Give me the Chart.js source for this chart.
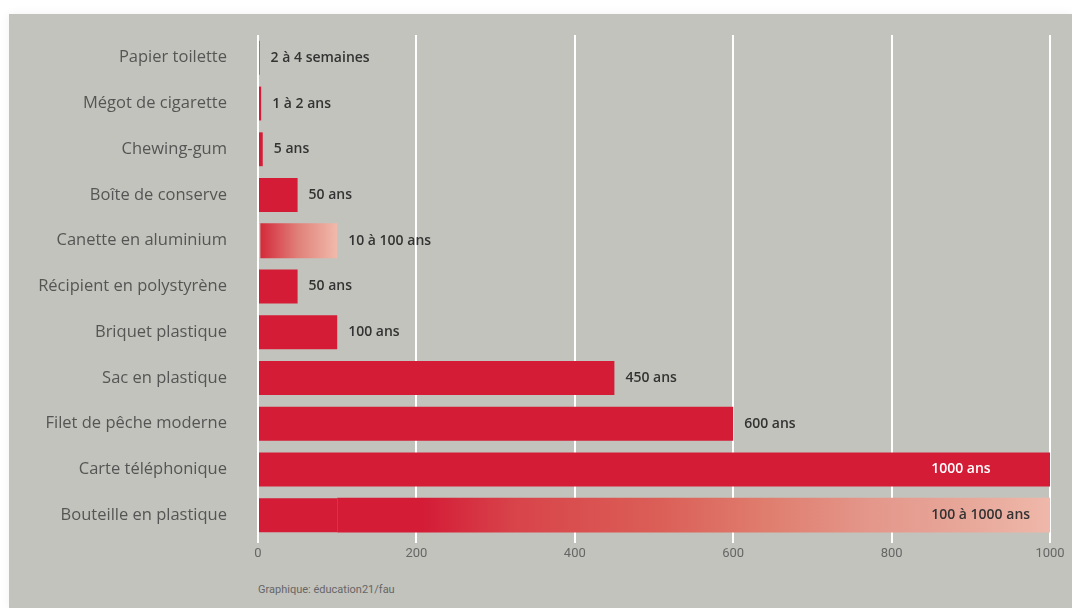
<!DOCTYPE html>
<html>
<head>
<meta charset="utf-8">
<script src="https://cdn.jsdelivr.net/npm/chart.js@4"></script>
<style>
  body { margin: 0; background: #fff; width: 1072px; height: 608px; overflow: hidden; font-family: Roboto, sans-serif; }
  .panel { position: absolute; left: 9px; top: 14px; width: 1063px; height: 594px; background: #c3c3bd; box-shadow: 0 0 10px rgba(0,0,0,0.06); }
  .wrap { position: absolute; left: 0; top: -12px; width: 1063px; height: 569px; }
  .source { position: absolute; left: 249px; top: 569px; font-size: 11px; color: #666; }
</style>
</head>
<body>
<div class="panel">
  <div class="wrap"><canvas id="myChart"></canvas></div>
  <div class="source">Graphique: éducation21/fau</div>
</div>
<script>
const labels = ['Papier toilette', 'Mégot de cigarette', 'Chewing-gum', 'Boîte de conserve', 'Canette en aluminium',
  'Récipient en polystyrène', 'Briquet plastique', 'Sac en plastique', 'Filet de pêche moderne', 'Carte téléphonique', 'Bouteille en plastique'];
// solid part of each bar (years)
const solidValues = [2, 4, 6, 50, null, 50, 100, 450, 600, 1000, 100];
// range part drawn with a fade, [from, to]
const rangeValues = [null, null, null, null, [3, 100], null, null, null, null, null, [100, 1000]];
const valueLabels = ['2 à 4 semaines', '1 à 2 ans', '5 ans', '50 ans', '10 à 100 ans', '50 ans', '100 ans',
  '450 ans', '600 ans', '1000 ans', '100 à 1000 ans'];
const xTicks = [0, 200, 400, 600, 800, 1000];

const red = '#d41c37';

function rangeFill(context) {
  const chart = context.chart;
  const v = rangeValues[context.dataIndex];
  if (!chart.chartArea || !v) return red;
  const x = chart.scales.x;
  const x0 = x.getPixelForValue(v[0]);
  const x1 = x.getPixelForValue(v[1]);
  const g = chart.ctx.createLinearGradient(x0, 0, x1, 0);
  if (v[1] - v[0] > 500) {
    g.addColorStop(0, red);
    g.addColorStop(0.12, red);
    g.addColorStop(0.25, '#d8444a');
    g.addColorStop(0.45, '#db5e57');
    g.addColorStop(0.6, '#df7d6e');
    g.addColorStop(0.75, '#e4978b');
    g.addColorStop(0.88, '#e7a799');
    g.addColorStop(1, '#efb8aa');
  } else {
    g.addColorStop(0, '#d42a3a');
    g.addColorStop(0.5, '#e0827a');
    g.addColorStop(1, '#f1baab');
  }
  return g;
}

const valueLabelPlugin = {
  id: 'valueLabels',
  afterDatasetsDraw(chart) {
    const ctx = chart.ctx;
    const x = chart.scales.x;
    const y = chart.scales.y;
    ctx.save();
    ctx.font = '600 14px "Open Sans", sans-serif';
    ctx.textBaseline = 'middle';
    ctx.textAlign = 'left';
    labels.forEach((l, i) => {
      const end = Math.max(solidValues[i] || 0, rangeValues[i] ? rangeValues[i][1] : 0);
      const yy = y.getPixelForValue(i);
      if (end >= 1000) {
        ctx.fillStyle = rangeValues[i] ? '#333' : '#fff';
        ctx.fillText(valueLabels[i], x.getPixelForValue(850), yy);
      } else {
        ctx.fillStyle = '#333';
        ctx.fillText(valueLabels[i], x.getPixelForValue(end) + 11, yy);
      }
    });
    ctx.restore();
  }
};

const ctx = document.getElementById('myChart');
new Chart(ctx, {
  type: 'bar',
  data: {
    labels: labels,
    datasets: [{
      label: 'solid',
      data: solidValues,
      backgroundColor: red,
      grouped: false,
      barPercentage: 0.74,
      categoryPercentage: 1
    }, {
      label: 'range',
      data: rangeValues,
      backgroundColor: rangeFill,
      grouped: false,
      barPercentage: 0.76,
      categoryPercentage: 1
    }]
  },
  options: {
    indexAxis: 'y',
    responsive: true,
    maintainAspectRatio: false,
    animation: false,
    layout: { padding: { top: 0, right: 22, left: 0, bottom: 0 } },
    plugins: { legend: { display: false }, tooltip: { enabled: false } },
    scales: {
      x: {
        min: 0,
        max: 1000,
        afterBuildTicks: s => { s.ticks = xTicks.map(v => ({ value: v })); },
        afterFit: s => { s.height = 24; },
        grid: { color: '#ffffff', lineWidth: 2, tickLength: 5, drawOnChartArea: true },
        border: { display: false },
        ticks: { color: '#666', font: { family: 'Roboto', size: 13 }, padding: 3, callback: v => String(v) }
      },
      y: {
        afterFit: s => { s.width = 249; },
        grid: { display: false },
        border: { display: false },
        ticks: { color: '#555', font: { family: 'Open Sans', size: 16.5 }, padding: 23 }
      }
    }
  },
  plugins: [valueLabelPlugin]
});
</script>
</body>
</html>
